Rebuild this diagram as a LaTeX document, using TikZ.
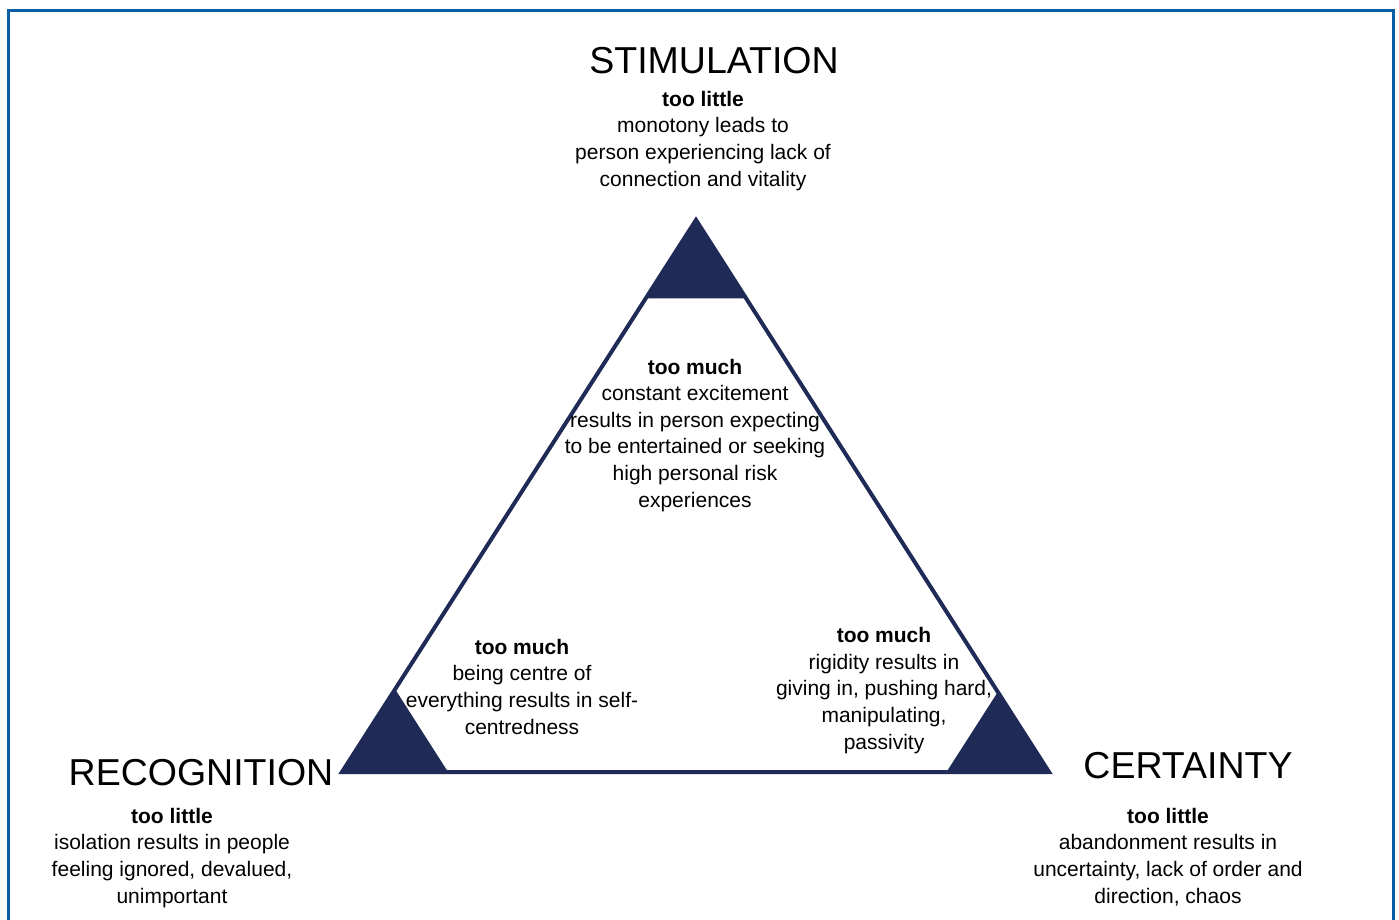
\documentclass[tikz,border=0pt]{standalone}
\usepackage{fontspec}
\setmainfont{Liberation Sans}
\usetikzlibrary{calc}
\definecolor{navy}{RGB}{31,42,86}
\definecolor{frameblue}{RGB}{12,94,164}

\begin{document}
\begin{tikzpicture}[x=1pt, y=-1pt,
		need/.style={font=\fontsize{37.5}{45}\selectfont, inner sep=0pt, anchor=base},
		txt/.style={align=center, font=\fontsize{21}{26.6}\selectfont, inner sep=0pt, anchor=base}]
			\useasboundingbox (0,0) rectangle (1399,920);
			% frame
			\draw[frameblue, line width=3pt] (8,940)--(8,11)--(1393,11)--(1393,940);
			% triangle corners
			\coordinate (S) at (696,220);
			\coordinate (R) at (342,772);
			\coordinate (C) at (1049,772);
			\fill[navy] (S)--($(S)!0.142!(R)$)--($(S)!0.142!(C)$)--cycle;
			\fill[navy] (R)--($(R)!0.15!(S)$)--($(R)!0.15!(C)$)--cycle;
			\fill[navy] (C)--($(C)!0.145!(S)$)--($(C)!0.145!(R)$)--cycle;
			\draw[navy, line width=4pt] (S)--(R)--(C)--cycle;
			% needs
			\node[need] (stim) at (714,74) {STIMULATION};
			\node[need] (reco) at (201,785) {RECOGNITION};
			\node[need] (cert) at (1188,778) {CERTAINTY};
			% too little (placed at baseline of last line)
			\node[txt] (stimlow) at (703,186) {\textbf{too little}\\monotony leads to\\person experiencing lack of\\connection and vitality};
			\node[txt] (recolow) at (172,903) {\textbf{too little}\\isolation results in people\\feeling ignored, devalued,\\unimportant};
			\node[txt] (certlow) at (1168,903) {\textbf{too little}\\abandonment results in\\uncertainty, lack of order and\\direction, chaos};
			% too much
			\node[txt] (stimhigh) at (695,507) {\textbf{too much}\\constant excitement\\results in person expecting\\to be entertained or seeking\\high personal risk\\experiences};
			\node[txt] (recohigh) at (522,734) {\textbf{too much}\\being centre of\\everything results in self-\\centredness};
			\node[txt] (certhigh) at (884,749) {\textbf{too much}\\rigidity results in\\giving in, pushing hard,\\manipulating,\\passivity};
		\end{tikzpicture}
\end{document}
